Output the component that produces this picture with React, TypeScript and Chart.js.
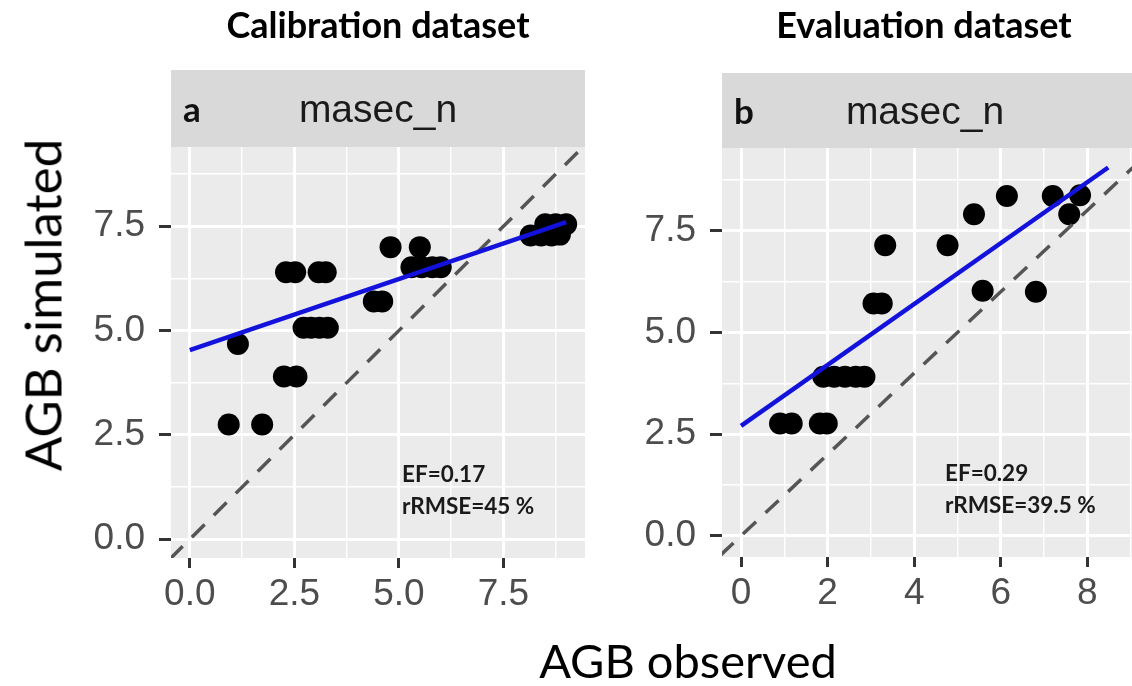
import React, { useEffect, useRef } from "react";
import { Chart, registerables } from "chart.js";

Chart.register(...registerables);

// ---------- data ----------
const calibObserved = [0.93, 1.73, 1.15, 2.25, 2.55, 2.72, 2.9, 3.1, 3.3, 2.3, 2.52, 3.08, 3.25, 4.4, 4.6, 4.8, 5.5, 5.3, 5.55, 5.8, 6.0, 8.15, 8.4, 8.65, 8.85, 8.5, 8.75, 9.0];
const calibSimulated = [2.75, 2.75, 4.68, 3.9, 3.9, 5.07, 5.07, 5.07, 5.07, 6.4, 6.4, 6.4, 6.4, 5.7, 5.7, 7.0, 7.0, 6.52, 6.52, 6.52, 6.52, 7.28, 7.28, 7.28, 7.3, 7.55, 7.55, 7.55];

const evalObserved = [0.9, 1.17, 1.82, 1.98, 1.9, 2.15, 2.4, 2.65, 2.85, 3.06, 3.25, 3.33, 4.77, 5.38, 5.58, 6.14, 6.81, 7.2, 7.58, 7.83];
const evalSimulated = [2.76, 2.76, 2.76, 2.76, 3.91, 3.91, 3.91, 3.91, 3.91, 5.71, 5.71, 7.14, 7.14, 7.9, 6.02, 8.35, 6.0, 8.35, 7.9, 8.37];

const calibFitX = [0, 9.0];
const calibFitY = [4.53, 7.6];
const evalFitX = [0, 8.48];
const evalFitY = [2.7, 9.05];
const oneToOne = [-1, 10];

const calibXTicks = [0, 2.5, 5, 7.5];
const calibXMinor = [1.25, 3.75, 6.25, 8.75];
const calibXLabels = ["0.0", "2.5", "5.0", "7.5"];
const evalXTicks = [0, 2, 4, 6, 8];
const evalXMinor = [1, 3, 5, 7, 9];
const evalXLabels = ["0", "2", "4", "6", "8"];
const yTicks = [0, 2.5, 5, 7.5];
const yMinor = [1.25, 3.75, 6.25, 8.75];
const yLabels = ["0.0", "2.5", "5.0", "7.5"];

const panelTitles = ["Calibration dataset", "Evaluation dataset"];
const panelTags = ["a", "b"];
const stripLabel = "masec_n";
const calibStats = ["EF=0.17", "rRMSE=45 %"];
const evalStats = ["EF=0.29", "rRMSE=39.5 %"];
const yAxisTitle = "AGB simulated";
const xAxisTitle = "AGB observed";

// ---------- helpers ----------
const TICK_FONT = { family: '"Liberation Sans", Arial, sans-serif', size: 37 };

const decorPlugin = {
  id: "decor",
  beforeDraw(chart: any, _args: any, o: any) {
    const { ctx, chartArea: a } = chart;
    ctx.save();
    ctx.fillStyle = "#ebebeb";
    ctx.fillRect(a.left, a.top, a.right - a.left, a.bottom - a.top);
    ctx.fillStyle = "#d9d9d9";
    ctx.fillRect(a.left, o.stripTop, a.right - a.left, a.top - o.stripTop);
    const cx = (a.left + a.right) / 2;
    ctx.textBaseline = "alphabetic";
    ctx.fillStyle = "#000";
    ctx.font = "bold 36px Lato";
    ctx.textAlign = "center";
    ctx.fillText(o.title, o.titleX ?? cx, o.titleBase);
    ctx.textAlign = "left";
    ctx.font = "bold 35px Lato";
    ctx.fillStyle = "#111";
    ctx.fillText(o.tag, a.left + 12, o.stripBase);
    ctx.textAlign = "center";
    ctx.font = '39px "Liberation Sans", Arial, sans-serif';
    ctx.fillStyle = "#1a1a1a";
    ctx.fillText(o.strip, o.stripX ?? cx, o.stripBase);
    ctx.restore();
  },
  afterDatasetsDraw(chart: any, _args: any, o: any) {
    const { ctx, chartArea: a } = chart;
    ctx.save();
    ctx.fillStyle = "#1a1a1a";
    ctx.font = "bold 22.5px Lato";
    ctx.textAlign = "left";
    ctx.textBaseline = "alphabetic";
    o.stats.forEach((s: string, i: number) => {
      ctx.fillText(s, a.left + o.statsDx, o.statsBase + i * 32);
    });
    ctx.restore();
  },
};

function axis(min: number, max: number, major: number[], minor: number[], labels: string[], size: number, isX: boolean) {
  const all = [...major, ...minor].sort((p, q) => p - q);
  const isMajor = (v: any) => major.indexOf(v) >= 0;
  return {
    type: "linear",
    min,
    max,
    afterBuildTicks: (s: any) => {
      s.ticks = all.map((v) => ({ value: v }));
    },
    afterFit: (s: any) => {
      if (isX) s.height = size;
      else s.width = size;
    },
    ticks: {
      autoSkip: false,
      maxRotation: 0,
      minRotation: 0,
      padding: isX ? 5 : 14,
      color: "#4d4d4d",
      font: TICK_FONT,
      callback: (v: any) => {
        const i = major.indexOf(v);
        return i >= 0 ? labels[i] : "";
      },
    },
    grid: {
      color: "#ffffff",
      lineWidth: (c: any) => (isMajor(c.tick?.value) ? 3 : 1.4),
      tickLength: isX ? 10 : 12,
      tickWidth: 3,
      tickColor: (c: any) => (isMajor(c.tick?.value) ? "#333333" : "rgba(0,0,0,0)"),
    },
    border: { display: false },
  };
}

function pts(xs: number[], ys: number[]) {
  return xs.map((x, i) => ({ x, y: ys[i] }));
}

function makeConfig(p: any) {
  return {
    type: "scatter",
    data: {
      datasets: [
        {
          type: "line",
          data: pts(p.fitX, p.fitY),
          borderColor: "#1212dc",
          borderWidth: 4.5,
          pointRadius: 0,
          fill: false,
          clip: 0,
        },
        {
          type: "line",
          data: pts(oneToOne, oneToOne),
          borderColor: "#555555",
          borderWidth: 3.5,
          borderDash: [18, 13],
          pointRadius: 0,
          fill: false,
          clip: 0,
        },
        {
          type: "scatter",
          data: pts(p.obs, p.sim),
          backgroundColor: "#000000",
          borderColor: "#000000",
          borderWidth: 0,
          pointRadius: 11,
        },
      ],
    },
    options: {
      animation: false,
      responsive: false,
      devicePixelRatio: 1,
      events: [],
      layout: { padding: p.padding },
      plugins: {
        legend: { display: false },
        tooltip: { enabled: false },
        title: { display: false },
        decor: p.decor,
      },
      scales: {
        x: axis(p.xMin, p.xMax, p.xMajor, p.xMinor, p.xLabels, p.xAxisH, true),
        y: axis(p.yMin, p.yMax, yTicks, yMinor, yLabels, p.yAxisW, false),
      },
    },
    plugins: [decorPlugin],
  };
}

export default function App() {
  const refA = useRef<HTMLCanvasElement>(null);
  const refB = useRef<HTMLCanvasElement>(null);

  useEffect(() => {
    const a = new Chart(
      refA.current as any,
      makeConfig({
        obs: calibObserved,
        sim: calibSimulated,
        fitX: calibFitX,
        fitY: calibFitY,
        xMin: -0.45,
        xMax: 9.45,
        yMin: -0.45,
        yMax: 9.4,
        xMajor: calibXTicks,
        xMinor: calibXMinor,
        xLabels: calibXLabels,
        xAxisH: 128,
        yAxisW: 171,
        padding: { top: 147, right: 15, left: 0, bottom: 0 },
        decor: {
          title: panelTitles[0],
          tag: panelTags[0],
          strip: stripLabel,
          stripTop: 70,
          stripBase: 122,
          titleBase: 38,
          stats: calibStats,
          statsDx: 231,
          statsBase: 482,
        },
      }) as any
    );
    const b = new Chart(
      refB.current as any,
      makeConfig({
        obs: evalObserved,
        sim: evalSimulated,
        fitX: evalFitX,
        fitY: evalFitY,
        xMin: -0.44,
        xMax: 9.03,
        yMin: -0.52,
        yMax: 9.53,
        xMajor: evalXTicks,
        xMinor: evalXMinor,
        xLabels: evalXLabels,
        xAxisH: 129,
        yAxisW: 122,
        padding: { top: 148, right: 28, left: 0, bottom: 0 },
        decor: {
          title: panelTitles[1],
          tag: panelTags[1],
          strip: stripLabel,
          stripTop: 73,
          stripBase: 124,
          titleBase: 38,
          titleX: 324,
          stripX: 325,
          stats: evalStats,
          statsDx: 223,
          statsBase: 481,
        },
      }) as any
    );
    return () => {
      a.destroy();
      b.destroy();
    };
  }, []);

  return (
    <div
      style={{
        position: "fixed",
        left: 0,
        top: 0,
        width: 1132,
        height: 686,
        background: "#ffffff",
        overflow: "hidden",
      }}
    >
      <canvas ref={refA} width={600} height={686} style={{ position: "absolute", left: 0, top: 0, width: 600, height: 686 }} />
      <canvas ref={refB} width={560} height={686} style={{ position: "absolute", left: 600, top: 0, width: 560, height: 686 }} />
      <div
        style={{
          position: "absolute",
          left: 42,
          top: 305,
          transform: "translate(-50%, -50%) rotate(-90deg)",
          whiteSpace: "nowrap",
          fontFamily: "Lato, sans-serif",
          fontSize: 51,
          lineHeight: 1,
          color: "#000",
        }}
      >
        {yAxisTitle}
      </div>
      <div
        style={{
          position: "absolute",
          left: 688,
          top: 660,
          transform: "translate(-50%, -50%)",
          whiteSpace: "nowrap",
          fontFamily: "Lato, sans-serif",
          fontSize: 47,
          lineHeight: 1,
          color: "#000",
        }}
      >
        {xAxisTitle}
      </div>
    </div>
  );
}
